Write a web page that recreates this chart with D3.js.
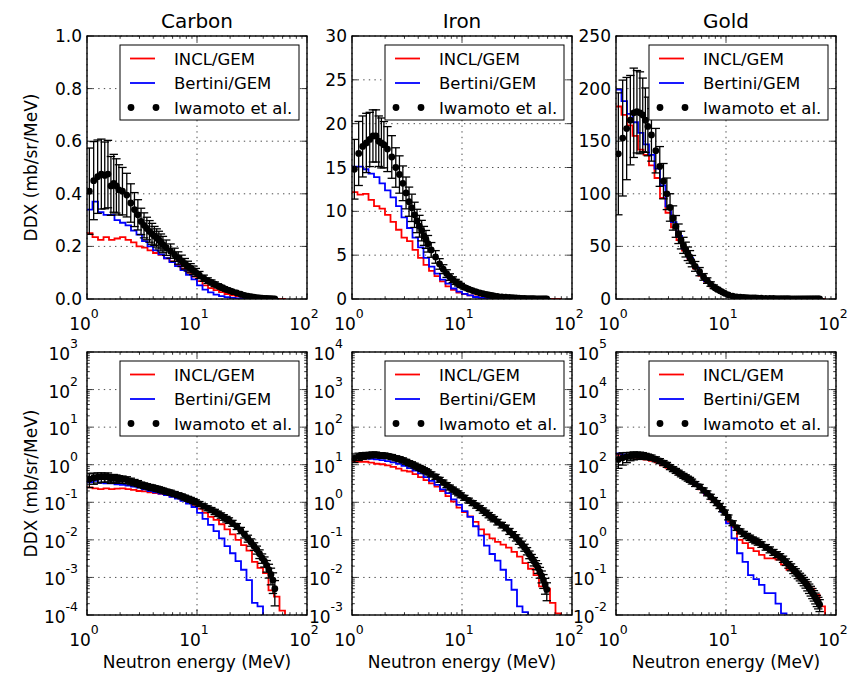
<!DOCTYPE html>
<html lang="en">
<head>
<meta charset="UTF-8">
<title>DDX neutron spectra</title>
<script src="https://d3js.org/d3.v7.min.js"></script>
<style>
  body { margin: 0; background: #fff; }
  svg text { font-family: "DejaVu Sans", sans-serif; fill: #000; }
</style>
</head>
<body>
<svg id="fig" width="851" height="676"></svg>
<script>
// histogram bin edges (MeV), shared by both codes
const binEdges = [1.000,1.122,1.259,1.413,1.585,1.778,1.995,2.239,2.512,2.818,
  3.162,3.548,3.981,4.467,5.012,5.623,6.310,7.079,7.943,8.913,
  10.00,11.22,12.59,14.13,15.85,17.78,19.95,22.39,25.12,28.18,
  31.62,35.48,39.81,44.67,50.12,56.23,63.10,70.79,79.43,89.13,100.0];

// measured energies (MeV)
const expEnergy = [1.05,1.15,1.25,1.35,1.45,1.55,1.65,1.75,1.85,1.95,
  2.1,2.3,2.5,2.7,2.9,3.1,3.3,3.5,3.7,3.9,
  4.1,4.3,4.5,4.7,4.9,
  5.25,5.75,6.25,6.75,7.25,7.75,8.25,8.75,9.25,9.75,
  10.5,11.5,12.5,13.5,14.5,15.5,16.5,17.5,18.5,19.5,
  21,23,25,27,29,31,33,35,37,39,41,43,45,47,49,51,53,55,57,59,61,63,65,67,69,71];

// Carbon
const carbonIncl = [0.25,0.235,0.225,0.235,0.225,0.23,0.235,0.225,0.215,0.20,
  0.195,0.185,0.175,0.168,0.155,0.143,0.13,0.115,0.10,0.085,
  0.068,0.052,0.041,0.034,0.026,0.019,0.014,0.010,0.0072,0.0052,
  0.0026,0.0018,0.0013,0.00045,0.00031,0.00013];
const carbonBertini = [0.34,0.37,0.33,0.32,0.32,0.30,0.29,0.28,0.26,0.245,
  0.22,0.20,0.185,0.17,0.155,0.14,0.125,0.11,0.092,0.075,
  0.052,0.036,0.025,0.017,0.011,0.0068,0.0044,0.0027,0.0016,0.00085,
  0.00021,0.00017];
const carbonExp = [0.41,0.45,0.465,0.475,0.47,0.475,0.43,0.44,0.43,0.415,
  0.41,0.395,0.365,0.34,0.32,0.295,0.28,0.268,0.257,0.248,
  0.24,0.232,0.224,0.215,0.207,
  0.195,0.182,0.168,0.156,0.145,0.134,0.125,0.117,0.109,0.101,
  0.091,0.079,0.070,0.063,0.056,0.050,0.045,0.040,0.036,0.033,
  0.028,0.023,0.018,0.014,0.011,0.0087,0.0068,0.0055,0.0043,0.0033,
  0.0027,0.0021,0.0016,0.0012,0.00085,0.00050];
const carbonErr = [0.40,0.33,0.30,0.28,0.27,0.27,0.26,0.25,0.24,0.23,
  0.22,0.21,0.20,0.19,0.18,0.17,0.17,0.16,0.16,0.16,
  0.15,0.15,0.15,0.15,0.15,
  0.15,0.15,0.15,0.15,0.15,0.15,0.15,0.15,0.15,0.15,
  0.15,0.15,0.15,0.15,0.16,0.16,0.16,0.17,0.17,0.17,
  0.18,0.18,0.19,0.20,0.21,0.22,0.23,0.24,0.26,0.28,
  0.30,0.34,0.40,0.47,0.56,0.65];

// Iron
const ironIncl = [12.2,11.9,12.0,11.3,10.6,10.3,9.6,8.8,7.9,7.0,
  6.6,5.6,4.7,3.9,3.2,2.6,2.0,1.45,1.05,0.72,
  0.55,0.42,0.30,0.19,0.14,0.11,0.088,0.075,0.062,0.048,
  0.036,0.024,0.017,0.0115,0.0058,0.0050,0.0021,0.0011];
const ironBertini = [15.1,15.1,14.8,14.3,13.9,13.2,12.4,11.6,10.6,9.3,
  8.1,7.0,5.9,4.7,3.7,2.9,2.2,1.75,1.2,0.85,
  0.58,0.41,0.23,0.13,0.07,0.042,0.028,0.016,0.0086,0.0047,
  0.0017,0.0012];
const ironExp = [14.8,16.6,17.4,17.8,18.2,18.6,18.6,18.0,17.8,17.6,
  17.1,16.2,15.0,14.2,13.2,12.1,11.1,10.4,9.6,8.9,
  8.3,7.8,7.2,6.8,6.3,
  5.6,4.8,4.0,3.4,2.9,2.5,2.2,1.95,1.75,1.55,
  1.33,1.12,0.96,0.82,0.71,0.61,0.53,0.46,0.40,0.36,
  0.30,0.25,0.21,0.17,0.14,0.115,0.094,0.077,0.063,0.051,
  0.041,0.033,0.027,0.022,0.018,0.014,0.011,0.0085,0.0065,0.0048];
const ironErr = [0.23,0.22,0.20,0.19,0.17,0.16,0.16,0.16,0.16,0.15,
  0.15,0.15,0.15,0.15,0.15,0.15,0.15,0.15,0.15,0.15,
  0.15,0.15,0.15,0.15,0.15,
  0.15,0.15,0.15,0.15,0.15,0.15,0.15,0.15,0.15,0.15,
  0.15,0.15,0.15,0.15,0.15,0.16,0.16,0.16,0.16,0.16,
  0.17,0.17,0.17,0.18,0.18,0.19,0.19,0.20,0.21,0.22,
  0.23,0.24,0.25,0.27,0.29,0.32,0.35,0.40,0.45,0.50];

// Gold
const goldIncl = [183,175,165,155,142,137,127,115,96,82,
  68,56,46,37,29,22,16.5,12,8.5,5.8,
  3.0,2.2,1.0,0.82,0.6,0.5,0.4,0.32,0.32,0.30,
  0.22,0.16,0.13,0.095,0.075,0.05,0.035,0.017];
const goldBertini = [199,188,176,168,158,147,137,124,108,88,
  73,60,48,39,30,23,17,12.5,8.5,5.6,
  2.75,1.1,0.44,0.26,0.115,0.09,0.063,0.038,0.038,0.02,
  0.011];
const goldExp = [138,153,162,170,177,178,177,175,170,164,
  156,141,126,112,100,87,77,69,62,56,
  51,47,43,40,36,
  31,26,21,17.5,14.2,11.6,9.6,8.0,6.6,5.4,
  4.0,2.8,2.1,1.7,1.45,1.28,1.15,1.03,0.95,0.87,
  0.76,0.64,0.55,0.47,0.41,0.36,0.31,0.26,0.22,0.19,
  0.16,0.14,0.12,0.105,0.092,0.08,0.07,0.06,0.052,0.045,
  0.039,0.034,0.029,0.025,0.022,0.019];
const goldErr = [0.42,0.36,0.30,0.25,0.24,0.22,0.22,0.20,0.18,0.17,
  0.16,0.15,0.15,0.15,0.15,0.15,0.15,0.15,0.15,0.15,
  0.15,0.15,0.15,0.15,0.15,
  0.15,0.15,0.15,0.15,0.15,0.15,0.15,0.15,0.15,0.15,
  0.15,0.15,0.15,0.15,0.16,0.16,0.16,0.16,0.17,0.17,
  0.17,0.17,0.18,0.18,0.18,0.19,0.19,0.20,0.20,0.21,
  0.21,0.22,0.23,0.23,0.24,0.25,0.26,0.27,0.28,0.29,
  0.30,0.31,0.32,0.33,0.34,0.35];

const targets = ["Carbon", "Iron", "Gold"];
const legendLabels = ["INCL/GEM", "Bertini/GEM", "Iwamoto et al."];

// top row: linear axes
const linDomains = [[0, 1], [0, 30], [0, 250]];
const linTicks = [[0, 0.2, 0.4, 0.6, 0.8, 1.0], [0, 5, 10, 15, 20, 25, 30], [0, 50, 100, 150, 200, 250]];
const linTickText = [["0.0","0.2","0.4","0.6","0.8","1.0"], ["0","5","10","15","20","25","30"], ["0","50","100","150","200","250"]];
// bottom row: log axes (exponents)
const logExps = [[-4,-3,-2,-1,0,1,2,3], [-3,-2,-1,0,1,2,3,4], [-2,-1,0,1,2,3,4,5]];
const xExps = [0, 1, 2];

const data = [
  {incl: carbonIncl, bert: carbonBertini, exp: carbonExp, err: carbonErr},
  {incl: ironIncl, bert: ironBertini, exp: ironExp, err: ironErr},
  {incl: goldIncl, bert: goldBertini, exp: goldExp, err: goldErr}
];

const svg = d3.select("#fig");
const W = 220, H = 263;
const colX = [87, 352, 616], rowY = [36, 352];
const FS = 17, SUP = 12.5;

function powLabel(t, e) {
  t.append("tspan").text("10");
  t.append("tspan").attr("font-size", SUP).attr("dy", -12).text(String(e));
}

function panel(col, row) {
  const x0 = colX[col], y0 = rowY[row];
  const isLog = row === 1;
  const x = d3.scaleLog().domain([1, 100]).range([x0, x0 + W]);
  let y, yMajor, yMinor = [];
  if (isLog) {
    const ex = logExps[col];
    y = d3.scaleLog().domain([Math.pow(10, ex[0]), Math.pow(10, ex[ex.length - 1])]).range([y0 + H, y0]);
    yMajor = ex.map(e => Math.pow(10, e));
    ex.slice(0, -1).forEach(e => { for (let m = 2; m < 10; m++) yMinor.push(m * Math.pow(10, e)); });
  } else {
    y = d3.scaleLinear().domain(linDomains[col]).range([y0 + H, y0]);
    yMajor = linTicks[col];
  }
  const floor = isLog ? y.domain()[0] / 100 : 0;
  const yv = v => y(Math.max(v, floor));
  const xMajor = [1, 10, 100];
  const xMinor = [];
  [1, 10].forEach(d => { for (let m = 2; m < 10; m++) xMinor.push(m * d); });

  const g = svg.append("g");
  const clipId = "clip" + row + col;
  svg.append("clipPath").attr("id", clipId).append("rect")
    .attr("x", x0).attr("y", y0).attr("width", W).attr("height", H);

  // grid
  const grid = g.append("g").attr("stroke", "#000").attr("stroke-width", 0.7).attr("stroke-dasharray", "1.4,4.2");
  xMajor.forEach(v => grid.append("line").attr("x1", x(v)).attr("x2", x(v)).attr("y1", y0).attr("y2", y0 + H));
  yMajor.forEach(v => grid.append("line").attr("x1", x0).attr("x2", x0 + W).attr("y1", y(v)).attr("y2", y(v)));

  const d = data[col];
  const plot = g.append("g").attr("clip-path", "url(#" + clipId + ")");

  // step histograms
  const line = d3.line().x(p => x(p[0])).y(p => yv(p[1])).curve(d3.curveStepAfter);
  [[d.incl, "#ff0000"], [d.bert, "#0000ff"]].forEach(([vals, c]) => {
    const pts = vals.map((v, i) => [binEdges[i], v]);
    pts.push([binEdges[vals.length], floor]);
    plot.append("path").attr("d", line(pts)).attr("fill", "none")
      .attr("stroke", c).attr("stroke-width", 1.8);
  });

  // measured points with error bars
  const eb = plot.append("g").attr("stroke", "#000").attr("stroke-width", 1.3);
  d.exp.forEach((v, i) => {
    const xe = x(expEnergy[i]);
    const lo = yv(v * (1 - d.err[i])), hi = yv(v * (1 + d.err[i]));
    eb.append("line").attr("x1", xe).attr("x2", xe).attr("y1", lo).attr("y2", hi);
    eb.append("line").attr("x1", xe - 4.2).attr("x2", xe + 4.2).attr("y1", lo).attr("y2", lo);
    eb.append("line").attr("x1", xe - 4.2).attr("x2", xe + 4.2).attr("y1", hi).attr("y2", hi);
  });
  plot.append("g").selectAll("circle").data(d.exp).join("circle")
    .attr("cx", (v, i) => x(expEnergy[i])).attr("cy", v => yv(v)).attr("r", 3.4).attr("fill", "#000");

  // ticks, inward on all four sides
  const tk = g.append("g").attr("stroke", "#000").attr("stroke-width", 0.8);
  const tick = (vals, len) => {
    vals.forEach(v => {
      const xx = x(v);
      tk.append("line").attr("x1", xx).attr("x2", xx).attr("y1", y0 + H).attr("y2", y0 + H - len);
      tk.append("line").attr("x1", xx).attr("x2", xx).attr("y1", y0).attr("y2", y0 + len);
    });
  };
  tick(xMajor, 5.6); tick(xMinor, 2.8);
  const ytick = (vals, len) => {
    vals.forEach(v => {
      const yy = y(v);
      tk.append("line").attr("x1", x0).attr("x2", x0 + len).attr("y1", yy).attr("y2", yy);
      tk.append("line").attr("x1", x0 + W).attr("x2", x0 + W - len).attr("y1", yy).attr("y2", yy);
    });
  };
  ytick(yMajor, 5.6); ytick(yMinor, 2.8);

  // spines
  g.append("rect").attr("x", x0).attr("y", y0).attr("width", W).attr("height", H)
    .attr("fill", "none").attr("stroke", "#000").attr("stroke-width", 1.4);

  // x tick labels
  xExps.forEach(e => {
    const t = g.append("text").attr("x", x(Math.pow(10, e)) - 3).attr("y", y0 + H + 31)
      .attr("text-anchor", "middle").attr("font-size", FS);
    powLabel(t, e);
  });
  // y tick labels
  if (isLog) {
    logExps[col].forEach(e => {
      const t = g.append("text").attr("x", x0 - 9).attr("y", y(Math.pow(10, e)) + 8)
        .attr("text-anchor", "end").attr("font-size", FS);
      powLabel(t, e);
    });
  } else {
    yMajor.forEach((v, i) => {
      g.append("text").attr("x", x0 - 5).attr("y", y(v) + 6)
        .attr("text-anchor", "end").attr("font-size", FS).text(linTickText[col][i]);
    });
  }

  // legend
  const lw = 179, lh = 75;
  const lg = g.append("g").attr("transform", `translate(${x0 + W - 8 - lw},${y0 + 9})`);
  lg.append("rect").attr("width", lw).attr("height", lh).attr("fill", "#fff")
    .attr("stroke", "#000").attr("stroke-width", 1);
  const colors = ["#ff0000", "#0000ff"];
  legendLabels.forEach((lab, i) => {
    const ly = 13.5 + i * 24.5;
    if (i < 2) {
      lg.append("line").attr("x1", 10).attr("x2", 35).attr("y1", ly).attr("y2", ly)
        .attr("stroke", colors[i]).attr("stroke-width", 1.8);
    } else {
      [11, 36].forEach(cx => lg.append("circle").attr("cx", cx).attr("cy", ly).attr("r", 3.4).attr("fill", "#000"));
    }
    lg.append("text").attr("x", 54).attr("y", ly + 6).attr("font-size", 16.5).text(lab);
  });

  // titles and axis labels
  if (row === 0) {
    svg.append("text").attr("x", x0 + W / 2).attr("y", 28).attr("text-anchor", "middle")
      .attr("font-size", 20).text(targets[col]);
  } else {
    svg.append("text").attr("x", x0 + W / 2).attr("y", 668).attr("text-anchor", "middle")
      .attr("font-size", FS).text("Neutron energy (MeV)");
  }
  if (col === 0) {
    svg.append("text").attr("transform", `translate(37,${y0 + H / 2}) rotate(-90)`)
      .attr("text-anchor", "middle").attr("font-size", FS).text("DDX (mb/sr/MeV)");
  }
}

for (let r = 0; r < 2; r++) for (let c = 0; c < 3; c++) panel(c, r);
</script>
</body>
</html>
